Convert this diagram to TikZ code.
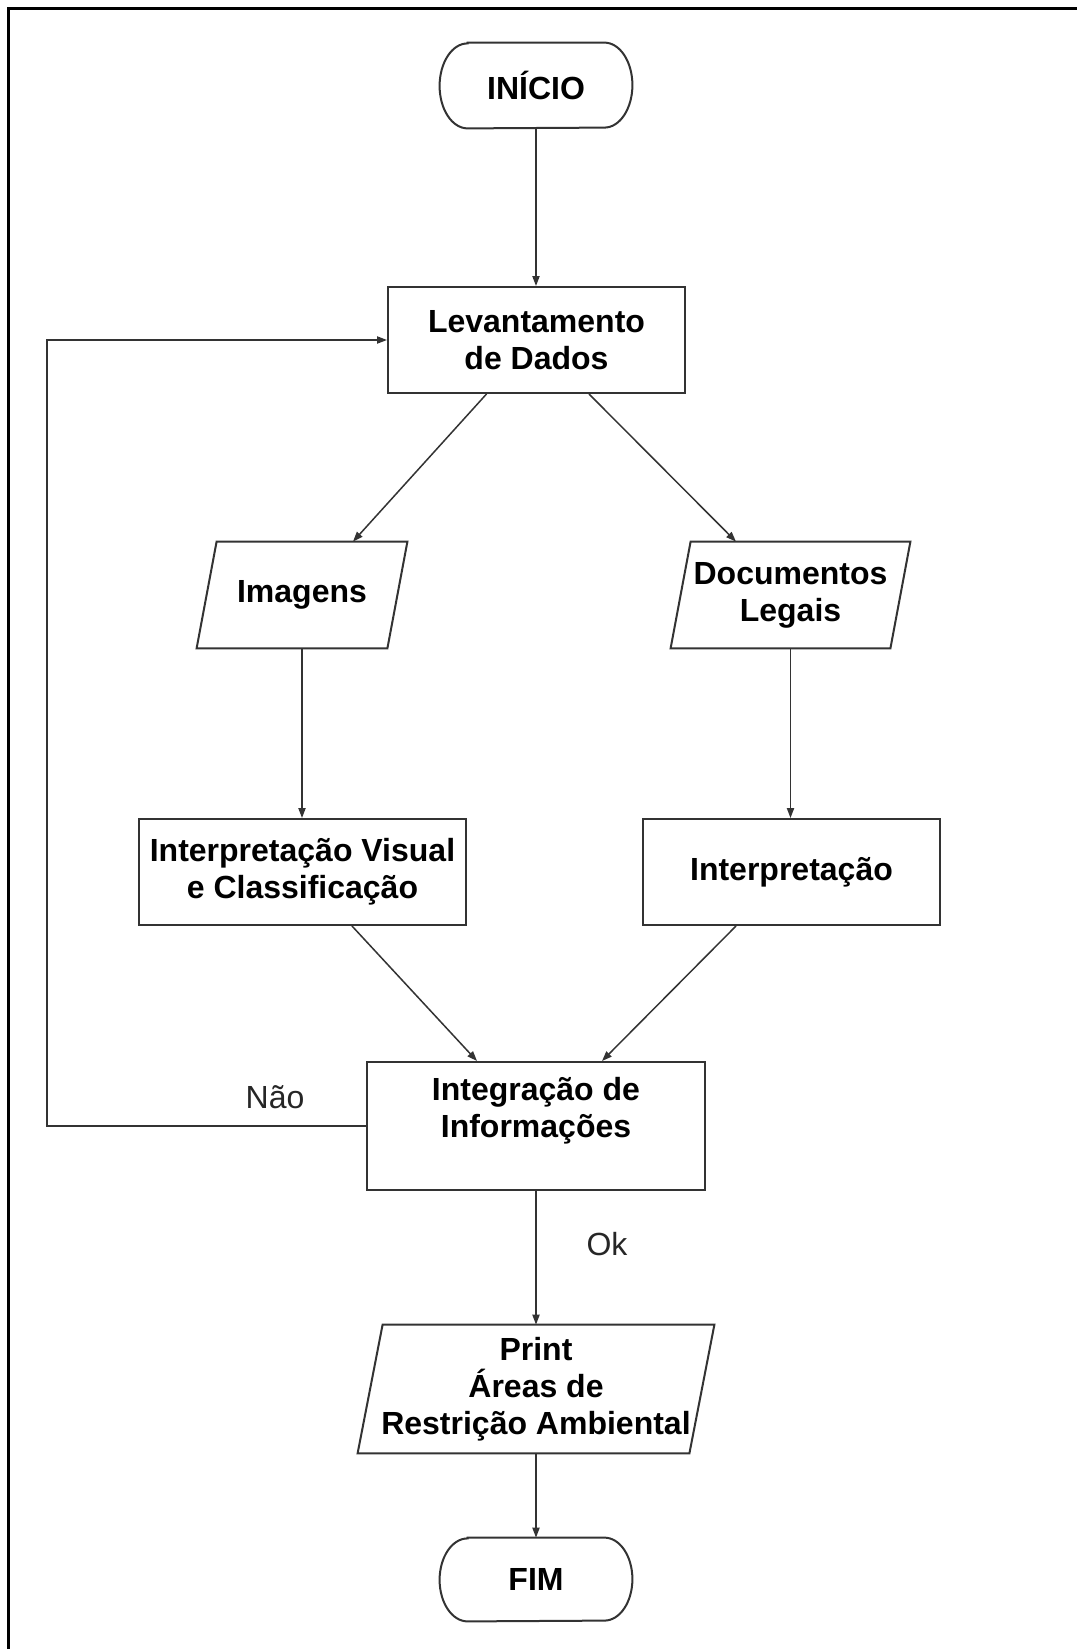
\documentclass[tikz,border=0pt]{standalone}
\usepackage{fontspec}
\setmainfont{Liberation Sans}
\usetikzlibrary{arrows.meta,calc}

% parallelogram (input/output) outline around a node; #2 = half the slant
\newcommand\ioshape[2]{%
  \draw[frameline] ($(#1.south west)+(-#2,0)$) -- ($(#1.south east)+(-#2,0)$)
    -- ($(#1.north east)+(#2,0)$) -- ($(#1.north west)+(#2,0)$) -- cycle;}
% terminal outline (straight top/bottom, elliptic ends); #2 = half height
\newcommand\termshape[2]{%
  \draw[frameline] ($(#1.north west)+(28,0)$) -- ($(#1.north east)+(-28,0)$)
    arc[start angle=90,end angle=-90,x radius=14pt,y radius=#2]
    -- ($(#1.south west)+(28,0)$)
    arc[start angle=270,end angle=90,x radius=14pt,y radius=#2] -- cycle;}

\begin{document}
\begin{tikzpicture}[x=0.5pt,y=-0.5pt,
  every node/.style={font=\bfseries\fontsize{16}{18.5}\selectfont,
    align=center, inner sep=0pt},
  frameline/.style={draw=black!80, line width=1pt},
  procbox/.style={rectangle, frameline},
  flow/.style={draw=black!80, line width=0.75pt,
    -{Triangle[length=5pt,width=3.6pt]}},
  labeltext/.style={font=\fontsize{16}{18.5}\selectfont, text=black!85}]

\useasboundingbox (0,0) rectangle (1077,1649);
\fill[white] (0,0) rectangle (1077,1649);
\draw[line width=1.5pt] (8,1649) -- (8,8) -- (1077,8);

% nodes
\node[minimum width=96pt, minimum height=42.5pt] (start) at (536,85.5) {INÍCIO};
\termshape{start}{21.25pt}

\node[procbox, minimum width=148.5pt, minimum height=53pt] (lev) at (536.5,340)
  {Levantamento\\de Dados};

\node[minimum width=95pt, minimum height=53pt] (img) at (302,595) {Imagens};
\ioshape{img}{10}

\node[minimum width=109.5pt, minimum height=53pt] (doc) at (790.5,595)
  {Documentos\\Legais};
\ioshape{doc}{10}

\node[procbox, minimum width=163.5pt, minimum height=53pt] (vis) at (302.5,872)
  {Interpretação Visual\\e Classificação};

\node[procbox, minimum width=148.5pt, minimum height=53pt] (interp) at (791.5,872)
  {Interpretação};

\node[procbox, minimum width=169pt, minimum height=64pt] (integ) at (536,1126)
  {Integração de\\Informações\\[-5.3pt]\strut};

\node[minimum width=165.5pt, minimum height=64pt] (print) at (536,1389)
  {Print\\Áreas de\\Restrição Ambiental};
\ioshape{print}{12.5}

\node[minimum width=96pt, minimum height=41.5pt] (fim) at (536,1579.5) {FIM};
\termshape{fim}{20.75pt}

\node[labeltext] (nao) at (275,1097) {Não};
\node[labeltext] (ok) at (607,1244) {Ok};

% connectors
\draw[flow] (start.south) -- (start.south |- lev.north);
\draw[flow] ($(lev.south)+(-50,0)$) -- ($(img.north)+(51,0)$);
\draw[flow] ($(lev.south)+(52.5,0)$) -- ($(doc.north)+(-54.5,0)$);
\draw[flow] (img.south) -- (img.south |- vis.north);
\draw[flow] (doc.south) -- (doc.south |- interp.north);
\draw[flow] ($(vis.south)+(49.5,0)$) -- ($(integ.north)+(-59,0)$);
\draw[flow] ($(interp.south)+(-55.5,0)$) -- ($(integ.north)+(66,0)$);
\draw[flow] (integ.south) -- (print.north);
\draw[flow] (print.south) -- (fim.north);
\coordinate (loopx) at (47,0);
\draw[flow] (integ.west) -- (integ.west -| loopx) -- (lev.west -| loopx) -- (lev.west);

\end{tikzpicture}
\end{document}
